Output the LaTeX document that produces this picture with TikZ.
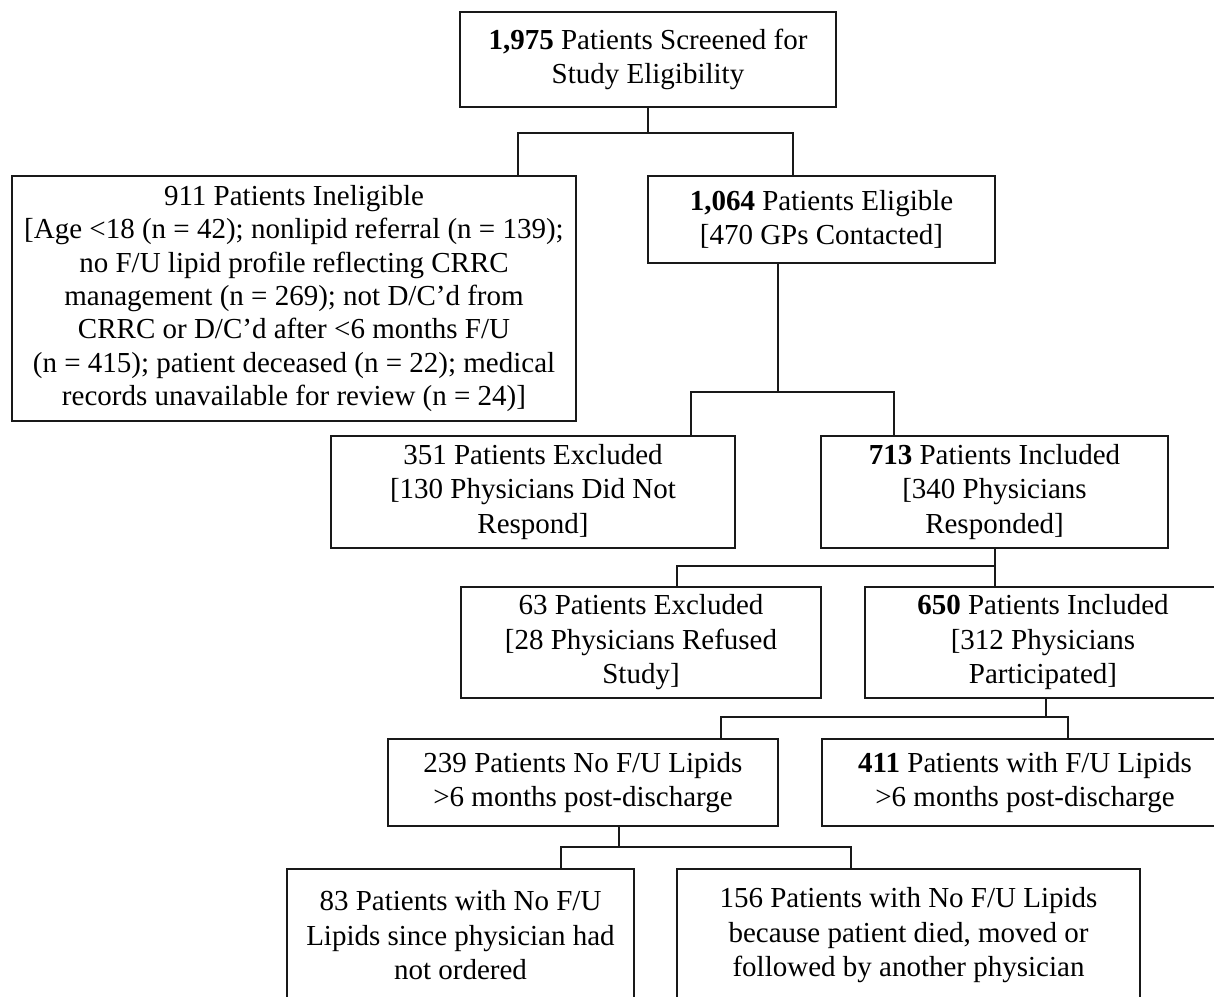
\documentclass[tikz,border=0pt]{standalone}
\usepackage{fontspec}
\setmainfont{Liberation Serif}
\begin{document}
\begin{tikzpicture}[x=1pt,y=-1pt,
  box/.style={draw=black!90, line width=1.8pt, align=center, inner sep=0pt,
    font=\fontsize{29}{34.5}\selectfont, text=black},
  link/.style={draw=black!90, line width=1.8pt}]
\useasboundingbox (0,0) rectangle (1214,996);
\fill[white] (0,0) rectangle (1214,996);

\node[box, minimum width=376pt, minimum height=95pt] (top) at (648,59.5)
  {\textbf{1,975} Patients Screened for\\Study Eligibility};
\node[box, font=\fontsize{29}{33.3}\selectfont, minimum width=564pt, minimum height=245pt] (inel) at (294,298.5)
  {911 Patients Ineligible\\{[}Age <18 (n = 42); nonlipid referral (n = 139);\\no F/U lipid profile reflecting CRRC\\management (n = 269); not D/C’d from\\CRRC or D/C’d after <6 months F/U\\(n = 415); patient deceased (n = 22); medical\\records unavailable for review (n = 24)]};
\node[box, minimum width=347pt, minimum height=87pt] (elig) at (821.5,219.5)
  {\textbf{1,064} Patients Eligible\\{[}470 GPs Contacted]};
\node[box, minimum width=404pt, minimum height=112pt] (ex351) at (533,492)
  {351 Patients Excluded\\{[}130 Physicians Did Not\\Respond]};
\node[box, minimum width=347pt, minimum height=112pt] (in713) at (994.5,492)
  {\textbf{713} Patients Included\\{[}340 Physicians\\Responded]};
\node[box, minimum width=360pt, minimum height=111pt] (ex63) at (641,642.5)
  {63 Patients Excluded\\{[}28 Physicians Refused\\Study]};
\node[box, minimum width=356pt, minimum height=111pt] (in650) at (1043,642.5)
  {\textbf{650} Patients Included\\{[}312 Physicians\\Participated]};
\node[box, minimum width=390pt, minimum height=87pt] (no239) at (583,782.5)
  {239 Patients No F/U Lipids\\>6 months post-discharge};
\node[box, minimum width=406pt, minimum height=87pt] (w411) at (1025,782.5)
  {\textbf{411} Patients with F/U Lipids\\>6 months post-discharge};
\node[box, minimum width=347pt, minimum height=133pt] (n83) at (460.5,935.5)
  {83 Patients with No F/U\\Lipids since physician had\\not ordered};
\node[box, minimum width=463pt, minimum height=133pt] (n156) at (908.5,935.5)
  {156 Patients with No F/U Lipids\\because patient died, moved or\\followed by another physician};

% junction bars
\coordinate (b1l) at (518,133);  \coordinate (b1r) at (793,133);
\coordinate (b2s) at (778,392);  \coordinate (b2l) at (691,392);  \coordinate (b2r) at (894,392);
\coordinate (b3l) at (677,566);  \coordinate (b3r) at (995,566);
\coordinate (b4s) at (1046,717); \coordinate (b4l) at (721,717);  \coordinate (b4r) at (1068,717);
\coordinate (b5s) at (619,847);  \coordinate (b5l) at (561,847);  \coordinate (b5r) at (851,847);

\draw[link] (top.south) -- (top.south |- b1l);
\draw[link] (inel.north -| b1l) -- (b1l) -- (b1r) -- (elig.north -| b1r);

\draw[link] (elig.south -| b2s) -- (b2s);
\draw[link] (ex351.north -| b2l) -- (b2l) -- (b2r) -- (in713.north -| b2r);

\draw[link] (in713.south -| b3r) -- (b3r);
\draw[link] (ex63.north -| b3l) -- (b3l) -- (b3r) -- (in650.north -| b3r);

\draw[link] (in650.south -| b4s) -- (b4s);
\draw[link] (no239.north -| b4l) -- (b4l) -- (b4r) -- (w411.north -| b4r);

\draw[link] (no239.south -| b5s) -- (b5s);
\draw[link] (n83.north -| b5l) -- (b5l) -- (b5r) -- (n156.north -| b5r);
\end{tikzpicture}
\end{document}
